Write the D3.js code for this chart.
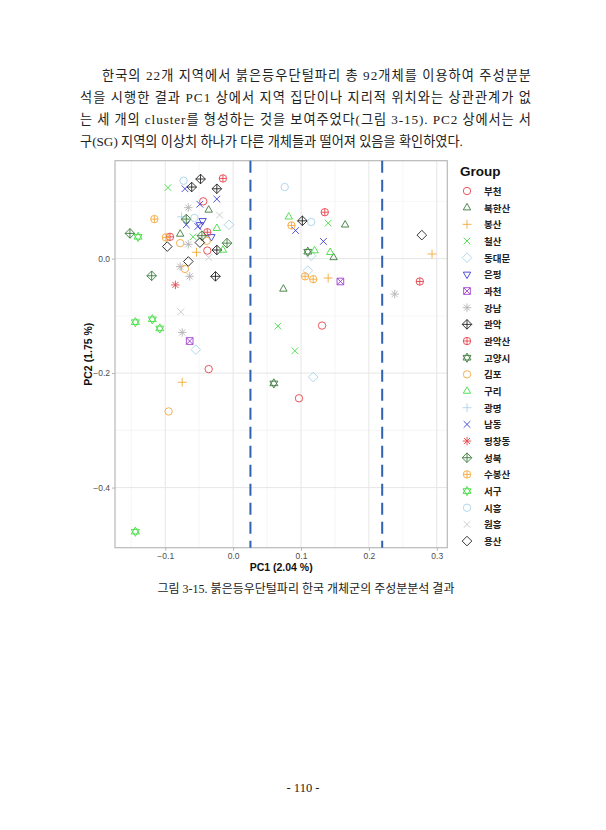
<!DOCTYPE html>
<html><head><meta charset="utf-8">
<script src="https://cdn.jsdelivr.net/npm/d3@7"></script>
<style>body{margin:0;background:#fff}</style>
</head><body>
<svg id="c" width="606" height="830"></svg>
<script>
// ---------- data ----------
const groups = ["부천","북한산","봉산","철산","동대문","은평","과천","강남","관악","관악산","고양시","김포","구리","광명","남동","평창동","성북","수봉산","서구","시흥","원흥","용산"];
const groupColors = ["#e6434b","#3c7a3c","#f5a83a","#44dd44","#a9d4ea","#3d3dd6","#a040d0","#b4b4b4","#222222","#e6434b","#3c7a3c","#f5a83a","#44dd44","#a9d4ea","#3d3dd6","#e6434b","#3c7a3c","#f5a83a","#44dd44","#a9d4ea","#c8c8c8","#222222"];
const groupShapes = [1,2,3,4,5,6,7,8,9,10,11,1,2,3,4,8,9,10,11,1,4,5];
const pointGroup = [
 0,0,0,0,0, 1,1,1,1,1, 2,2,2,2, 3,3,3,3,3, 4,4,4,4,4, 5,5,5, 6,6,
 7,7,7,7,7,7, 8,8,8,8,8,8, 9,9,9,9,9, 10,10, 11,11,11,11, 12,12,12,12,12,
 13, 14,14,14,14,14,14,14, 15, 16,16,16,16,16, 17,17,17,17,17, 18,18,18,18,18,
 19,19,19,19, 20,20,20, 21,21,21,21];
const pc1 = [
 -0.044,-0.038,0.131,-0.036,0.097,
 -0.036,-0.078,0.165,0.148,0.074,
 -0.054,0.293,0.140,-0.075,
 -0.096,-0.059,0.140,0.066,0.091,
 -0.006,0.115,0.110,-0.055,0.118,
 -0.045,-0.049,-0.032,
 0.158,-0.064,
 -0.066,-0.066,-0.078,-0.064,-0.075,0.238,
 -0.048,-0.061,-0.024,-0.024,-0.026,0.102,
 -0.015,-0.038,-0.093,0.135,0.275,
 0.110,0.060,
 -0.039,-0.078,-0.071,-0.095,
 -0.024,-0.015,0.082,0.120,0.143,
 -0.076,
 -0.071,-0.024,-0.049,-0.069,-0.052,0.092,0.133,
 -0.085,
 -0.069,-0.152,-0.046,-0.009,-0.120,
 -0.116,-0.099,0.086,0.106,0.118,
 -0.140,-0.144,-0.119,-0.108,-0.144,
 -0.073,-0.057,0.076,0.115,
 -0.020,-0.036,-0.077,
 -0.097,-0.049,-0.066,0.278];
const pc2 = [
 0.100,0.014,-0.117,-0.193,-0.244,
 0.085,0.043,0.059,0.002,-0.053,
 0.011,0.008,-0.034,-0.216,
 0.124,0.038,0.062,-0.118,-0.161,
 0.059,0.005,-0.021,-0.159,-0.207,
 0.066,0.059,0.038,
 -0.040,-0.144,
 0.089,0.025,-0.014,-0.031,-0.129,-0.062,
 0.139,0.125,0.122,0.015,-0.031,0.066,
 0.140,0.046,0.038,0.081,-0.040,
 0.012,-0.218,
 0.031,0.027,-0.018,-0.267,
 0.053,0.015,0.073,0.014,0.011,
 0.073,
 0.122,0.104,0.095,0.059,0.056,0.049,0.030,
 -0.046,
 0.069,0.044,0.040,0.027,-0.030,
 0.069,0.037,0.058,-0.031,-0.036,
 0.038,-0.111,-0.106,-0.122,-0.477,
 0.136,0.071,0.125,0.064,
 0.076,0.002,-0.093,
 0.021,0.028,-0.005,0.041];
const xTicks = [-0.1,0,0.1,0.2,0.3];
const xMinor = [-0.15,-0.05,0.05,0.15,0.25];
const yTicks = [0,-0.2,-0.4];
const yMinor = [0.1,-0.1,-0.3];
const cutoffs = [0.0255,0.2196];
const paragraph = [
 "한국의 22개 지역에서 붉은등우단털파리 총 92개체를 이용하여 주성분분",
 "석을 시행한 결과 PC1 상에서 지역 집단이나 지리적 위치와는 상관관계가 없",
 "는 세 개의 cluster를 형성하는 것을 보여주었다(그림 3-15). PC2 상에서는 서",
 "구(SG) 지역의 이상치 하나가 다른 개체들과 떨어져 있음을 확인하였다."];
const caption = "그림 3-15. 붉은등우단털파리 한국 개체군의 주성분분석 결과";
const pageNo = "- 110 -";

// ---------- drawing ----------
const svg = d3.select("#c");
svg.append("rect").attr("width",606).attr("height",830).attr("fill","#fff");

const bodyFont = "'Liberation Serif','Noto Sans CJK KR',serif";
const tg = svg.append("g").attr("font-family",bodyFont).attr("font-size",13.2).attr("fill","#222");
paragraph.forEach((t,i)=>{
  const x0 = i===0 ? 102 : 80;
  const el = tg.append("text").attr("x",x0).attr("y",80+i*22).text(t);
  if(i<3) el.attr("textLength",531-x0).attr("lengthAdjust","spacing");
});

const L=115,R=447.3,T=160.7,B=547.7;
const x = d3.scaleLinear().domain([-0.174,0.3155]).range([L,R]);
const y = d3.scaleLinear().domain([-0.505,0.171]).range([B,T]);

const grid = svg.append("g");
grid.selectAll(".xm").data(xMinor).join("line").attr("x1",d=>x(d)).attr("x2",d=>x(d)).attr("y1",T).attr("y2",B).attr("stroke","#f0f0f0").attr("stroke-width",0.6);
grid.selectAll(".ym").data(yMinor).join("line").attr("y1",d=>y(d)).attr("y2",d=>y(d)).attr("x1",L).attr("x2",R).attr("stroke","#f0f0f0").attr("stroke-width",0.6);
grid.selectAll(".xM").data(xTicks).join("line").attr("x1",d=>x(d)).attr("x2",d=>x(d)).attr("y1",T).attr("y2",B).attr("stroke","#e3e3e3").attr("stroke-width",0.9);
grid.selectAll(".yM").data(yTicks).join("line").attr("y1",d=>y(d)).attr("y2",d=>y(d)).attr("x1",L).attr("x2",R).attr("stroke","#e3e3e3").attr("stroke-width",0.9);

const fmt = d=> (d<0?"\u2212":"")+Math.abs(d).toFixed(1);
const xAxis = svg.append("g").attr("transform",`translate(0,${B})`)
  .call(d3.axisBottom(x).tickValues(xTicks).tickFormat(fmt).tickSize(3).tickPadding(2));
const yAxis = svg.append("g").attr("transform",`translate(${L},0)`)
  .call(d3.axisLeft(y).tickValues(yTicks).tickFormat(fmt).tickSize(3).tickPadding(2));
[xAxis,yAxis].forEach(a=>{
  a.select(".domain").remove();
  a.selectAll(".tick line").attr("stroke","#b3b3b3");
  a.selectAll(".tick text").attr("fill","#4d4d4d").attr("font-size",8.5).attr("font-family","'Liberation Sans',Arial,sans-serif");
});

svg.append("rect").attr("x",L).attr("y",T).attr("width",R-L).attr("height",B-T).attr("fill","none").attr("stroke","#b8b8b8").attr("stroke-width",1.2);

svg.selectAll(".cut").data(cutoffs).join("line")
  .attr("x1",d=>x(d)).attr("x2",d=>x(d)).attr("y1",T).attr("y2",B)
  .attr("stroke","#2f62b3").attr("stroke-width",2).attr("stroke-dasharray","12,7");

function shapePath(k,r){
  const c=`M${r},0A${r},${r} 0 1,1 ${-r},0A${r},${r} 0 1,1 ${r},0Z`;
  const a=r*0.9, d=r*1.3, p=r*1.15;
  const plus=(e)=>`M${-e},0H${e}M0,${-e}V${e}`;
  const cross=(e)=>`M${-e},${-e}L${e},${e}M${-e},${e}L${e},${-e}`;
  const triU=`M0,${-r*1.15}L${r},${r*0.6}L${-r},${r*0.6}Z`;
  const triD=`M0,${r*1.15}L${r},${-r*0.6}L${-r},${-r*0.6}Z`;
  const dia=`M0,${-d}L${d},0L0,${d}L${-d},0Z`;
  switch(k){
    case 1: return c;
    case 2: return triU;
    case 3: return plus(r*1.2);
    case 4: return cross(a);
    case 5: return dia;
    case 6: return triD;
    case 7: return `M${-a},${-a}H${a}V${a}H${-a}Z`+cross(a);
    case 8: return plus(r*1.15)+cross(r*0.82);
    case 9: return dia+plus(d);
    case 10: return c+plus(r);
    case 11: return `M0,${-r*1.25}L${r*1.08},${r*0.62}L${-r*1.08},${r*0.62}Z M0,${r*1.25}L${r*1.08},${-r*0.62}L${-r*1.08},${-r*0.62}Z`;
  }
}

const pts = pc1.map((v,i)=>({x:v,y:pc2[i],g:pointGroup[i]}));
svg.append("g").selectAll("path").data(pts).join("path")
  .attr("transform",d=>`translate(${x(d.x)},${y(d.y)})`)
  .attr("d",d=>shapePath(groupShapes[d.g],3.7))
  .attr("fill","none").attr("stroke",d=>groupColors[d.g]).attr("stroke-width",0.9);

// axis titles
const sans="'Liberation Sans',Arial,sans-serif";
svg.append("text").attr("x",(L+R)/2).attr("y",571).attr("text-anchor","middle")
  .attr("font-family",sans).attr("font-weight","bold").attr("font-size",10.5).attr("fill","#111").text("PC1 (2.04 %)");
svg.append("text").attr("transform",`translate(92,${(T+B)/2}) rotate(-90)`).attr("text-anchor","middle")
  .attr("font-family",sans).attr("font-weight","bold").attr("font-size",10.5).attr("fill","#111").text("PC2 (1.75 %)");

// legend
const lg = svg.append("g");
lg.append("text").attr("x",460).attr("y",176).attr("font-family",sans).attr("font-weight","bold").attr("font-size",13.5).attr("fill","#111").text("Group");
const items = lg.selectAll(".it").data(groups).join("g").attr("transform",(d,i)=>`translate(467,${191+i*16.67})`);
items.append("path").attr("d",(d,i)=>shapePath(groupShapes[i],3.7)).attr("fill","none").attr("stroke",(d,i)=>groupColors[i]).attr("stroke-width",0.9);
items.append("text").attr("x",17).attr("y",4).attr("font-family","'Noto Sans CJK KR',sans-serif").attr("font-weight","bold").attr("font-size",9.5).attr("fill","#222").text(d=>d);

svg.append("text").attr("x",306).attr("y",593).attr("text-anchor","middle").attr("font-family",bodyFont).attr("font-size",12).attr("fill","#222").text(caption);
svg.append("text").attr("x",303).attr("y",792).attr("text-anchor","middle").attr("font-family",bodyFont).attr("font-size",12.5).attr("fill","#222").text(pageNo);
</script>
</body></html>
